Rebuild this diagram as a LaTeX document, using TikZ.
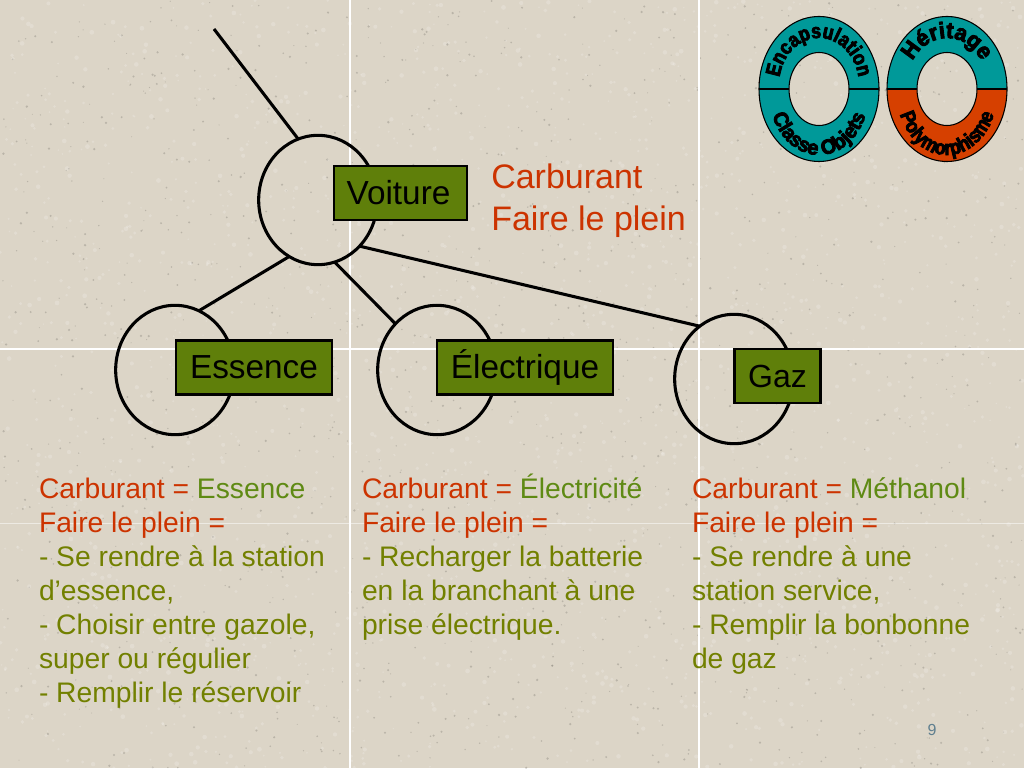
\documentclass[tikz,border=0pt]{standalone}
\usepackage{fontspec}
\setmainfont{Liberation Sans}
\newfontfamily\ringfont[FakeBold=4,FakeStretch=0.86]{Liberation Sans Bold}
\newfontfamily\ringfontB[FakeBold=4,FakeStretch=0.96]{Liberation Sans Bold}
\usetikzlibrary{shapes.geometric,decorations.text}
\definecolor{bgcol}{HTML}{DCD5C7}
\definecolor{boxgreen}{HTML}{5F7F0A}
\definecolor{redtxt}{HTML}{CC3300}
\definecolor{olivetxt}{HTML}{728000}
\definecolor{valtxt}{HTML}{5F8A14}
\definecolor{ringteal}{HTML}{009999}
\definecolor{ringred}{HTML}{D64000}
\definecolor{numcol}{HTML}{5F7F8F}
\newcommand{\rd}[1]{\textcolor{redtxt}{#1}}
\newcommand{\vl}[1]{\textcolor{valtxt}{#1}}
\tikzset{
  x=0.75pt,y=0.75pt,
  classcircle/.style={ellipse,draw=black,line width=2.3pt,minimum width=89pt,minimum height=97pt,inner sep=0pt,outer sep=0pt},
  classbox/.style={draw=black,fill=boxgreen,line width=2.1pt,inner sep=0pt,outer sep=0pt,font=\fontsize{25}{30}\selectfont},
  link/.style={draw=black,line width=2.3pt},
  bodytext/.style={anchor=north west,align=left,inner sep=0pt,outer sep=0pt,text=olivetxt,font=\fontsize{21.2}{25.5}\selectfont},
  ringlabel/.style={decorate,decoration={text along path,text align=center}},
}
\newcommand{\ringshape}[4]{% cx, cy, fill top, fill bottom
  \fill[#3] (#1-60,#2) arc[start angle=180,end angle=0,x radius=60,y radius=72.5]
     -- (#1+30,#2) arc[start angle=0,end angle=180,x radius=30,y radius=36.5] -- cycle;
  \fill[#4] (#1-60,#2) arc[start angle=180,end angle=360,x radius=60,y radius=72.5]
     -- (#1+30,#2) arc[start angle=360,end angle=180,x radius=30,y radius=36.5] -- cycle;
  \draw[line width=0.8pt] (#1,#2) ellipse[x radius=60,y radius=72.5];
  \draw[line width=0.8pt] (#1,#2) ellipse[x radius=30,y radius=36.5];
  \draw[line width=0.8pt] (#1-60,#2) -- (#1-30,#2) (#1+30,#2) -- (#1+60,#2);
}
\begin{document}
\begin{tikzpicture}
\useasboundingbox (0,0) rectangle (1024,768);
\fill[bgcol] (0,0) rectangle (1024,768);
% paper grain
\pgfmathsetseed{4242}
\foreach \i in {1,...,1300}{
  \pgfmathsetmacro{\px}{rnd*1024}
  \pgfmathsetmacro{\py}{rnd*768}
  \pgfmathsetmacro{\pr}{0.5+rnd*0.8}
  \fill[black!50!bgcol,opacity=0.3] (\px,\py) circle[radius=\pr];
}
\foreach \i in {1,...,2200}{
  \pgfmathsetmacro{\px}{rnd*1024}
  \pgfmathsetmacro{\py}{rnd*768}
  \pgfmathsetmacro{\pr}{0.8+rnd*1.6}
  \fill[white,opacity=0.18] (\px,\py) circle[radius=\pr];
}
% tile seams
\draw[white,line width=0.8pt] (350,0) -- (350,768) (699,0) -- (699,768) (0,419) -- (1024,419);
\draw[white,opacity=0.5,line width=0.6pt] (0,245) -- (1024,245);

% class circles
\node[classcircle] (voitureC) at (318,568) {};
\node[classcircle] (essenceC) at (175,398) {};
\node[classcircle] (electriqueC) at (437,398) {};
\node[classcircle] (gazC) at (734,389) {};

% connectors
\coordinate (rootEnd) at (214,739);
\draw[link] (rootEnd) -- (voitureC.108);
\draw[link] (voitureC.243) -- (essenceC.68);
\draw[link] (voitureC.285) -- (electriqueC.132);
\draw[link] (voitureC.312) -- (gazC.123);

% class boxes
\node[classbox,minimum width=99.7pt,minimum height=40.5pt] (voiture) at (400.5,575) {Voiture\kern3pt};
\node[classbox,minimum width=117pt,minimum height=41pt] (essence) at (254,400.5) {Essence};
\node[classbox,minimum width=132pt,minimum height=41pt] (electrique) at (525,400.5) {Électrique};
\node[classbox,minimum width=65pt,minimum height=40.5pt,font=\fontsize{24}{29}\selectfont] (gaz) at (777.5,392) {Gaz};

% texts
\node[anchor=north west,align=left,inner sep=0pt,text=redtxt,font=\fontsize{25.5}{31.5}\selectfont] (attrs) at (491,604) {Carburant\\Faire le plein};
\node[bodytext] (txtE) at (39,290) {\rd{Carburant =} \vl{Essence}\\\rd{Faire le plein =}\\- Se rendre à la station\\d’essence,\\- Choisir entre gazole,\\super ou régulier\\- Remplir le réservoir};
\node[bodytext] (txtL) at (362,294) {\rd{Carburant =} \vl{Électricité}\\\rd{Faire le plein =}\\- Recharger la batterie\\en la branchant à une\\prise électrique.};
\node[bodytext] (txtG) at (692,290) {\rd{Carburant =} \vl{Méthanol}\\\rd{Faire le plein =}\\- Se rendre à une\\station service,\\- Remplir la bonbonne\\de gaz};
\node[text=numcol,font=\fontsize{12}{14}\selectfont,inner sep=0pt] (pagenum) at (932,38) {9};

% rings
\ringshape{819}{679}{ringteal}{ringteal}
\ringshape{947}{679}{ringteal}{ringred}
\path[ringlabel,decoration={text={|\ringfont\fontsize{15.5}{16}\selectfont|Encapsulation}}]
  (819-40,683) arc[start angle=180,end angle=0,x radius=40,y radius=47];
\path[ringlabel,decoration={text={|\ringfontB\fontsize{15.5}{16}\selectfont|Classe Objets}}]
  (819-50,675) arc[start angle=180,end angle=360,x radius=50,y radius=62];
\path[ringlabel,decoration={text={|\ringfontB\fontsize{17}{18}\selectfont|Héritage}}]
  (947-40,683) arc[start angle=180,end angle=0,x radius=40,y radius=47];
\path[ringlabel,decoration={text={|\ringfont\fontsize{15.5}{16}\selectfont|Polymorphisme}}]
  (947-50,675) arc[start angle=180,end angle=360,x radius=50,y radius=62];
\end{tikzpicture}
\end{document}
